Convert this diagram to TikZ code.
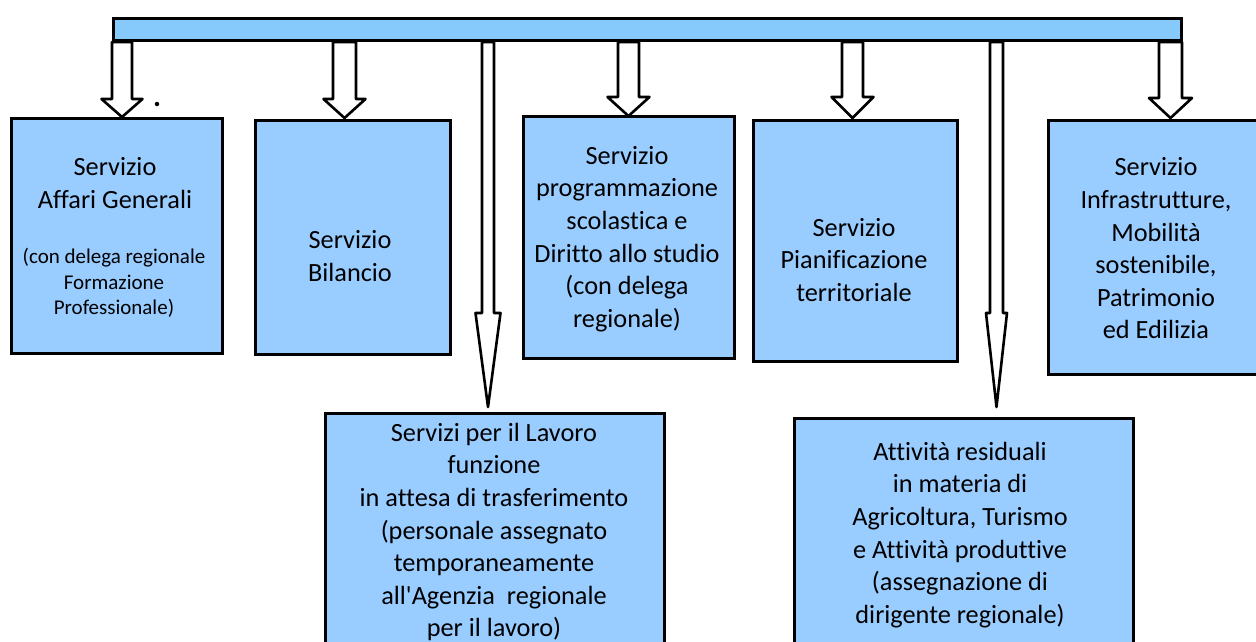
\documentclass[tikz,border=0pt]{standalone}
\usepackage{fontspec}
\setmainfont{Carlito}[Ligatures={TeXOff,NoCommon}]
\usetikzlibrary{calc}
\definecolor{boxblue}{RGB}{153,204,255}
\definecolor{barblue}{RGB}{134,202,251}
\tikzset{
  orgbox/.style={draw=black, line width=3pt, fill=boxblue, rectangle, inner sep=0pt, anchor=north west},
  topbar/.style={draw=black, line width=3pt, fill=barblue, rectangle, inner sep=0pt, anchor=north west},
  arrowbody/.style={draw=black, line width=2.6pt, fill=white, line join=round},
  bigtxt/.style={align=center, inner sep=0pt, font=\fontsize{26.3}{32.6}\selectfont},
  smalltxt/.style={align=center, inner sep=0pt, font=\fontsize{21}{25.6}\selectfont},
}
\newcommand\blockarrow[4]{%
  \coordinate (s#1) at (t#1|-bar.south);
  \draw[arrowbody] ($(s#1)+(-#2,0)$) -- ($(t#1)+(-#2,-#4)$) -- ($(t#1)+(-#3,-#4)$) -- (t#1)
    -- ($(t#1)+(#3,-#4)$) -- ($(t#1)+(#2,-#4)$) -- ($(s#1)+(#2,0)$) -- cycle;}
\begin{document}
\begin{tikzpicture}[x=1pt, y=-1pt]
\useasboundingbox (0,0) rectangle (1256,641);
\clip (0,0) rectangle (1256,641);
\fill[white] (0,0) rectangle (1256,641);

% boxes
\node[orgbox, minimum width=211pt, minimum height=235pt] (b1) at (10,117) {};
\node[orgbox, minimum width=195pt, minimum height=234pt] (b2) at (254,119) {};
\node[orgbox, minimum width=211pt, minimum height=242pt] (b3) at (522,115) {};
\node[orgbox, minimum width=204pt, minimum height=241pt] (b4) at (752,119) {};
\node[orgbox, minimum width=223pt, minimum height=254pt] (b5) at (1047,119) {};
\node[orgbox, minimum width=339pt, minimum height=250pt] (b6) at (324,412) {};
\node[orgbox, minimum width=339pt, minimum height=245pt] (b7) at (793,417) {};

% arrow tips
\coordinate (t1) at (122,117);
\coordinate (t2) at (344.5,118);
\coordinate (t3) at (488,407);
\coordinate (t4) at (628.5,116);
\coordinate (t5) at (852.5,118);
\coordinate (t6) at (996.5,407);
\coordinate (t7) at (1170.5,118);

% bar (needed for arrow starts)
\path (112,17) node[topbar, minimum width=1068pt, minimum height=22pt, draw=none, fill=none] (bar) {};

\blockarrow{1}{10}{20.5}{18}
\blockarrow{2}{11.5}{21}{19}
\blockarrow{3}{6}{12.5}{94}
\blockarrow{4}{10.5}{21}{19}
\blockarrow{5}{10.5}{21}{21}
\blockarrow{6}{6.5}{10.5}{94}
\blockarrow{7}{11.5}{21.5}{20}

% bar drawn on top
\node[topbar, minimum width=1068pt, minimum height=22pt] (barfg) at (112,17) {};

% small dot
\node[circle, fill=black, inner sep=0pt, minimum size=4.5pt] (dot) at (157,104) {};

% texts
\node[bigtxt] (x1a) at (115,183) {Servizio\\Affari Generali};
\node[smalltxt] (x1b) at (114,283) {(con delega regionale\\Formazione\\Professionale)};
\node[bigtxt] (x2) at (350,256) {Servizio\\Bilancio};
\node[bigtxt] (x3) at (627,239) {Servizio\\programmazione\\scolastica e\\Diritto allo studio\\(con delega\\regionale)};
\node[bigtxt] (x4) at (854,260) {Servizio\\Pianificazione\\territoriale};
\node[bigtxt] (x5) at (1156,248.5) {Servizio\\Infrastrutture,\\Mobilità\\sostenibile,\\Patrimonio\\ed Edilizia};
\node[bigtxt] (x6) at (494,532) {Servizi per il Lavoro\\funzione\\in attesa di trasferimento\\(personale assegnato\\temporaneamente\\all'Agenzia\ \ regionale\\per il lavoro)};
\node[bigtxt] (x7) at (960,535) {Attività residuali\\in materia di\\Agricoltura, Turismo\\e Attività produttive\\(assegnazione di\\dirigente regionale)};
\end{tikzpicture}
\end{document}
